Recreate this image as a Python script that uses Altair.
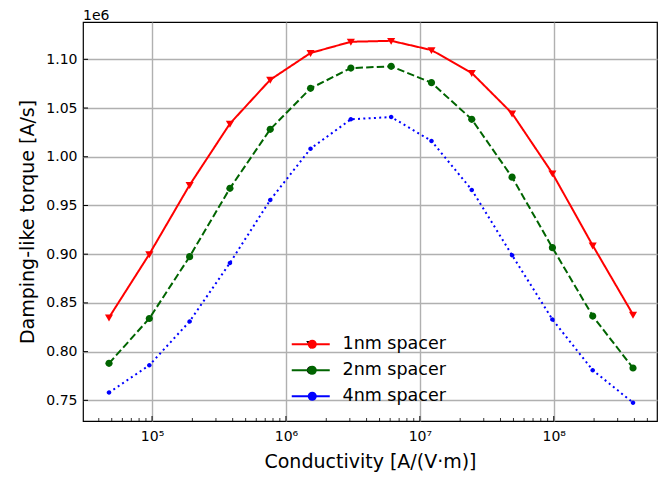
import altair as alt
import pandas as pd

# ---- data ----
conductivity = [47700, 95400, 190800, 381500, 763000, 1526000, 3052000,
                6104000, 12210000, 24410000, 48830000, 97660000, 195300000, 390600000]
torque_1nm = [0.835, 0.900, 0.971, 1.034, 1.079, 1.1065, 1.118, 1.119,
              1.1095, 1.086, 1.0445, 0.983, 0.909, 0.838]
torque_2nm = [0.788, 0.834, 0.8975, 0.9676, 1.0282, 1.0702, 1.091, 1.0928,
              1.076, 1.0384, 0.979, 0.9067, 0.8365, 0.7832]
torque_4nm = [0.758, 0.786, 0.831, 0.891, 0.9556, 1.0083, 1.0384, 1.0408,
              1.0162, 0.966, 0.899, 0.833, 0.781, 0.7476]
series_names = ["1nm spacer", "2nm spacer", "4nm spacer"]
series_colors = ["#ff0000", "#006400", "#0000ff"]

y_tick_values = [0.75, 0.80, 0.85, 0.90, 0.95, 1.00, 1.05, 1.10]
x_major_ticks = [1e5, 1e6, 1e7, 1e8]
x_tick_labels = ["10⁵", "10⁶", "10⁷", "10⁸"]
x_minor_ticks = [4e4, 5e4, 6e4, 7e4, 8e4, 9e4,
                 2e5, 3e5, 4e5, 5e5, 6e5, 7e5, 8e5, 9e5,
                 2e6, 3e6, 4e6, 5e6, 6e6, 7e6, 8e6, 9e6,
                 2e7, 3e7, 4e7, 5e7, 6e7, 7e7, 8e7, 9e7,
                 2e8, 3e8, 4e8, 5e8]

x_domain = [30500, 5.9e8]
y_domain = [0.7288, 1.1383]

rows = []
for name, vals in zip(series_names, [torque_1nm, torque_2nm, torque_4nm]):
    for c, v in zip(conductivity, vals):
        rows.append({"sigma": c, "torque": v, "series": name})
df = pd.DataFrame(rows)

W, H = 574, 399
FONT = "DejaVu Sans"

label_expr = " : ".join(
    f"datum.value == {int(v)} ? '{t}'" for v, t in zip(x_major_ticks, x_tick_labels)
) + " : ''"

# marker shapes (units scaled by sqrt(size)/2 px)
marker_paths = [
    "M-0.9,-0.65L0.9,-0.65L0,0.9Z",
    "M-0.8,0A0.8,0.8,0,1,0,0.8,0A0.8,0.8,0,1,0,-0.8,0Z",
    "M-0.5,0A0.5,0.5,0,1,0,0.5,0A0.5,0.5,0,1,0,-0.5,0Z",
]
MARKER_SIZE = 81

LEG_Y = 313.5
ROW_PAD = 7

legend_lines = alt.Legend(
    title=None, orient="none", legendX=219, legendY=LEG_Y,
    padding=0, rowPadding=ROW_PAD, symbolType="M-3.8,0L3.8,0", symbolSize=100,
    symbolStrokeWidth=2, labelFontSize=17.5, labelFont=FONT, labelColor="black",
    labelOffset=23, zindex=0,
)
legend_marks = alt.Legend(
    title=None, orient="none", legendX=220.5, legendY=LEG_Y,
    padding=0, rowPadding=ROW_PAD, symbolSize=MARKER_SIZE, symbolStrokeWidth=0,
    symbolOpacity=1, labelFontSize=17.5, labelFont=FONT, labelExpr="''",
    labelOffset=25, zindex=1,
)

color_scale = alt.Scale(domain=series_names, range=series_colors)
x_scale = alt.Scale(type="log", domain=x_domain, nice=False)
y_scale = alt.Scale(domain=y_domain, nice=False, zero=False)

x_axis = alt.Axis(
    title="Conductivity [A/(V·m)]", values=x_major_ticks, labelExpr=label_expr,
    grid=True, ticks=False, domain=False, labelPadding=8,
    labelFontSize=14, labelFont=FONT, labelColor="black",
    titleFontSize=19, titleFont=FONT, titleFontWeight="normal", titleColor="black",
    titleY=46, titleBaseline="alphabetic",
    gridColor="#b0b0b0", gridWidth=1.4,
)
y_axis = alt.Axis(
    title="Damping-like torque [A/s]", values=y_tick_values, format=".2f",
    grid=True, ticks=False, domain=False, labelPadding=6,
    labelFontSize=14, labelFont=FONT, labelColor="black",
    titleFontSize=19, titleFont=FONT, titleFontWeight="normal", titleColor="black",
    titleX=-50, titleY=H / 2, titleAngle=270, titleAlign="center",
    titleBaseline="alphabetic",
    gridColor="#b0b0b0", gridWidth=1.4,
)

base = alt.Chart(df)

lines = base.mark_line(strokeWidth=2, strokeCap="butt").encode(
    x=alt.X("sigma:Q", scale=x_scale, axis=x_axis),
    y=alt.Y("torque:Q", scale=y_scale, axis=y_axis),
    color=alt.Color("series:N", scale=color_scale, legend=legend_lines),
    strokeDash=alt.StrokeDash(
        "series:N",
        scale=alt.Scale(domain=series_names, range=[[1, 0], [7.4, 3.2], [2, 3.3]]),
        legend=legend_lines,
    ),
)

points = base.mark_point(filled=True, opacity=1, strokeWidth=0, size=MARKER_SIZE).encode(
    x=alt.X("sigma:Q", scale=x_scale, axis=x_axis),
    y=alt.Y("torque:Q", scale=y_scale, axis=y_axis),
    color=alt.Color("series:N", scale=color_scale, legend=legend_marks),
    shape=alt.Shape("series:N", scale=alt.Scale(domain=series_names, range=marker_paths),
                    legend=legend_marks),
)

y_ticks = alt.Chart(pd.DataFrame({"yt": y_tick_values})).mark_rule(
    color="black", strokeWidth=1).encode(
    y=alt.Y("yt:Q", scale=y_scale, axis=y_axis),
    x=alt.value(0), x2=alt.value(5),
)
x_major = alt.Chart(pd.DataFrame({"xt": x_major_ticks})).mark_rule(
    color="black", strokeWidth=1).encode(
    x=alt.X("xt:Q", scale=x_scale, axis=x_axis),
    y=alt.value(H), y2=alt.value(H - 5),
)
x_minor = alt.Chart(pd.DataFrame({"xm": x_minor_ticks})).mark_rule(
    color="black", strokeWidth=0.8).encode(
    x=alt.X("xm:Q", scale=x_scale, axis=x_axis),
    y=alt.value(H), y2=alt.value(H - 3),
)
offset_text = alt.Chart(pd.DataFrame({"t": ["1e6"]})).mark_text(
    align="left", baseline="alphabetic", fontSize=14, font=FONT, color="black").encode(
    text="t:N", x=alt.value(0), y=alt.value(-2),
)

chart = alt.layer(lines, points, y_ticks, x_major, x_minor, offset_text).resolve_scale(
    color="independent"
).resolve_legend(
    color="independent"
).properties(
    width=W, height=H,
    autosize=alt.AutoSizeParams(type="none"),
    padding={"left": 75, "top": 14, "right": 3, "bottom": 55},
).configure(
    font=FONT
).configure_view(
    stroke="black", strokeWidth=1.2
)

chart.save("out.html", embed_options={"renderer": "svg", "actions": False})
